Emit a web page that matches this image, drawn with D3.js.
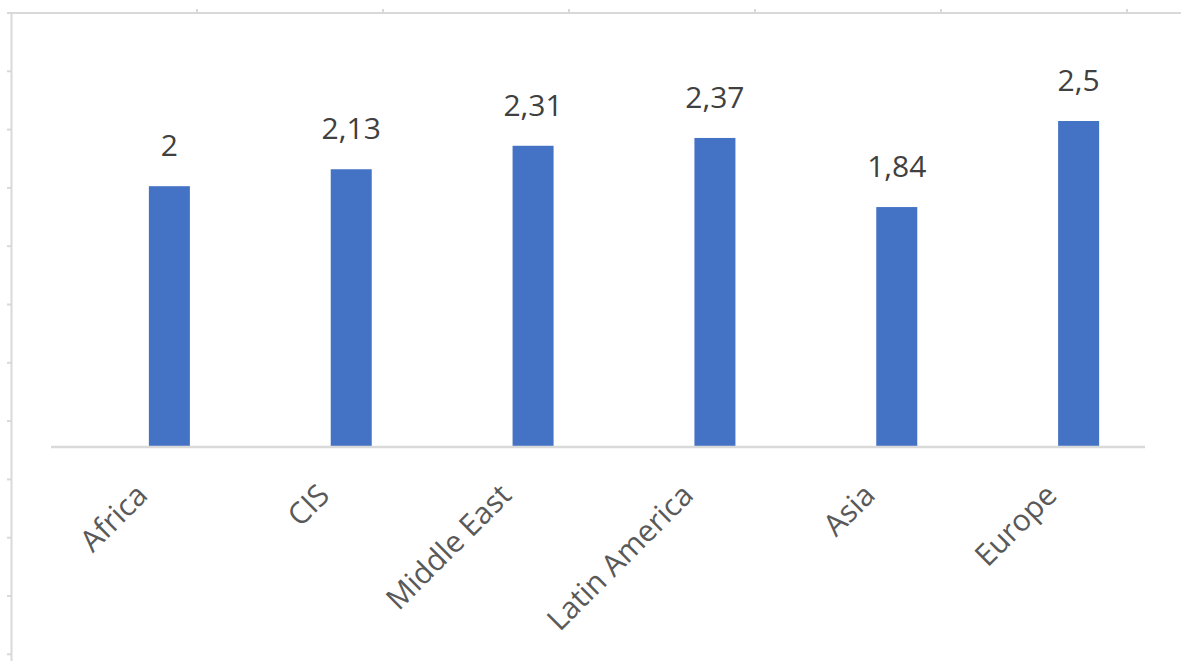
<!DOCTYPE html>
<html>
<head>
<meta charset="utf-8">
<script src="https://cdn.jsdelivr.net/npm/d3@7"></script>
<style>
  html, body { margin: 0; padding: 0; background: #ffffff; }
  svg { display: block; }
</style>
</head>
<body>
<svg id="chart" width="1181" height="661"></svg>
<script>
// ---- data ----
const categories = ["Africa", "CIS", "Middle East", "Latin America", "Asia", "Europe"];
const values = [2, 2.13, 2.31, 2.37, 1.84, 2.5];
const valueLabels = ["2", "2,13", "2,31", "2,37", "1,84", "2,5"];

const W = 1181, H = 661;
const svg = d3.select("#chart");

// ---- spreadsheet frame (decoration) ----
const frame = svg.append("g").attr("stroke", "#d9d9d9").attr("fill", "none");
frame.append("line").attr("x1", 11.5).attr("x2", 11.5).attr("y1", 12).attr("y2", H).attr("stroke-width", 2);
frame.append("line").attr("x1", 7).attr("x2", W).attr("y1", 13).attr("y2", 13).attr("stroke-width", 2);
d3.range(0, 12).forEach(i => {
  const yy = 13 + i * 58.3;
  frame.append("line").attr("x1", 7).attr("x2", 11).attr("y1", yy).attr("y2", yy).attr("stroke-width", 2);
});
d3.range(0, 6).forEach(i => {
  const xx = 197 + i * 186;
  frame.append("line").attr("x1", xx).attr("x2", xx).attr("y1", 9).attr("y2", 13).attr("stroke-width", 2);
});

// ---- scales ----
const x = d3.scaleBand().domain(categories).range([78.5, 1169.5]).paddingInner(0.7745).paddingOuter(0.387);
const y = d3.scaleLinear().domain([0, 2.5]).range([447, 121]);

// ---- bars ----
svg.append("g").selectAll("rect").data(categories).join("rect")
  .attr("x", d => x(d))
  .attr("width", x.bandwidth())
  .attr("y", (d, i) => y(values[i]))
  .attr("height", (d, i) => y(0) - y(values[i]))
  .attr("fill", "#4472c4");

// ---- baseline ----
svg.append("line").attr("x1", 51).attr("x2", 1145).attr("y1", y(0)).attr("y2", y(0))
  .attr("stroke", "#d9d9d9").attr("stroke-width", 2.5);

// ---- value labels ----
svg.append("g").selectAll("text").data(categories).join("text")
  .attr("x", d => x(d) + x.bandwidth() / 2)
  .attr("y", (d, i) => y(values[i]) - 30)
  .attr("text-anchor", "middle")
  .attr("font-family", "'Open Sans', 'Noto Sans', sans-serif")
  .attr("font-size", 30)
  .attr("fill", "#404040")
  .text((d, i) => valueLabels[i]);

// ---- category labels ----
svg.append("g").selectAll("text").data(categories).join("text")
  .attr("transform", d => `translate(${x(d) + x.bandwidth() / 2 - 20},${497}) rotate(-45)`)
  .attr("text-anchor", "end")
  .attr("font-family", "'Open Sans', 'Noto Sans', sans-serif")
  .attr("font-size", 30)
  .attr("fill", "#595959")
  .text(d => d);
</script>
</body>
</html>
